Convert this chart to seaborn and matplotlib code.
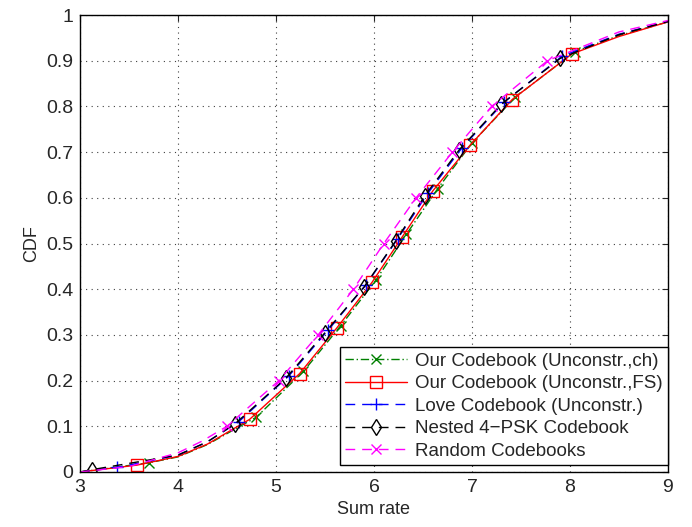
import matplotlib
matplotlib.use("Agg")
import matplotlib.pyplot as plt
import seaborn as sns

# CDF curves of the sum rate (x = sum rate, y = CDF)
green_rate = [3.0, 3.7, 4.0, 4.3, 4.8, 5.28, 5.66, 6.02, 6.33, 6.65, 7.0, 7.44, 8.05, 8.5, 9.0]
green_cdf = [0.0, 0.02, 0.033, 0.06, 0.12, 0.22, 0.32, 0.42, 0.52, 0.62, 0.72, 0.82, 0.92, 0.955, 0.985]

red_rate = [3.0, 3.58, 4.0, 4.3, 4.73, 5.24, 5.62, 5.98, 6.29, 6.6, 6.98, 7.41, 8.02, 8.5, 9.0]
red_cdf = [0.0, 0.015, 0.034, 0.061, 0.115, 0.215, 0.315, 0.415, 0.515, 0.615, 0.715, 0.815, 0.915, 0.953, 0.985]

blue_rate = [3.0, 3.38, 4.0, 4.3, 4.62, 5.13, 5.53, 5.92, 6.24, 6.55, 6.9, 7.33, 7.92, 8.5, 9.0]
blue_cdf = [0.0, 0.01, 0.037, 0.066, 0.11, 0.21, 0.31, 0.41, 0.51, 0.61, 0.71, 0.81, 0.91, 0.958, 0.986]

black_rate = [3.0, 3.12, 4.0, 4.3, 4.58, 5.1, 5.5, 5.9, 6.22, 6.52, 6.87, 7.3, 7.9, 8.5, 9.0]
black_cdf = [0.0, 0.005, 0.037, 0.066, 0.105, 0.205, 0.305, 0.405, 0.505, 0.605, 0.705, 0.805, 0.905, 0.957, 0.986]

magenta_rate = [3.0, 3.5, 4.0, 4.25, 4.5, 5.03, 5.43, 5.79, 6.1, 6.43, 6.8, 7.2, 7.77, 8.5, 9.0]
magenta_cdf = [0.0, 0.012, 0.042, 0.068, 0.1, 0.2, 0.3, 0.4, 0.5, 0.6, 0.7, 0.8, 0.9, 0.963, 0.988]

marker_idx = [1, 4, 5, 6, 7, 8, 9, 10, 11, 12]
magenta_marker_idx = [4, 5, 6, 7, 8, 9, 10, 11, 12]

labels = [
    "Our Codebook (Unconstr.,ch)",
    "Our Codebook (Unconstr.,FS)",
    "Love Codebook (Unconstr.)",
    "Nested 4\u2212PSK Codebook",
    "Random Codebooks",
]

sns.set_style("white")
plt.rcParams["font.family"] = ["Liberation Sans", "DejaVu Sans"]

fig = plt.figure(figsize=(6.92, 5.27), dpi=100)
ax = fig.add_axes([0.1156, 0.1044, 0.8497, 0.8671])

curves = [
    (green_rate, green_cdf, "#008000", (0, (6, 2, 1, 2)), "x", 7, marker_idx),
    (red_rate, red_cdf, "red", "-", "s", 8, marker_idx),
    (blue_rate, blue_cdf, "blue", (0, (7, 5)), "+", 9, marker_idx),
    (black_rate, black_cdf, "black", (0, (7, 5)), "d", 8, marker_idx),
    (magenta_rate, magenta_cdf, "magenta", (0, (7, 5)), "x", 7, magenta_marker_idx),
]

for (rate, cdf, color, ls, mk, ms, mev), lab in zip(curves, labels):
    sns.lineplot(x=rate, y=cdf, ax=ax, color=color, linestyle=ls, linewidth=1.0,
                 marker=mk, markersize=ms, markevery=mev, markerfacecolor="none",
                 markeredgecolor=color, markeredgewidth=1.0, label=lab)

ax.set_xlim(3, 9)
ax.set_ylim(0, 1)
ax.set_xticks([3, 4, 5, 6, 7, 8, 9])
ax.set_yticks([0, 0.1, 0.2, 0.3, 0.4, 0.5, 0.6, 0.7, 0.8, 0.9, 1])
ax.set_yticklabels(["0", "0.1", "0.2", "0.3", "0.4", "0.5", "0.6", "0.7", "0.8", "0.9", "1"])
ax.set_xlabel("Sum rate", fontsize=13)
ax.set_ylabel("CDF", fontsize=13)
ax.tick_params(direction="in", top=True, right=True, labelsize=14, length=4, width=0.8, pad=5)
ax.grid(True, linestyle=(0, (1, 4)), color="0.25", linewidth=0.8)
for sp in ax.spines.values():
    sp.set_color("black")
    sp.set_linewidth(1.0)

leg = ax.legend(loc="lower right", bbox_to_anchor=(1.0, 0.015), borderaxespad=0,
                fontsize=13.5, handlelength=3.3, labelspacing=0.28, fancybox=False,
                framealpha=1, edgecolor="black", borderpad=0.3, handletextpad=0.4)
leg.get_frame().set_linewidth(1.0)

fig.savefig("out.png", dpi=100)
